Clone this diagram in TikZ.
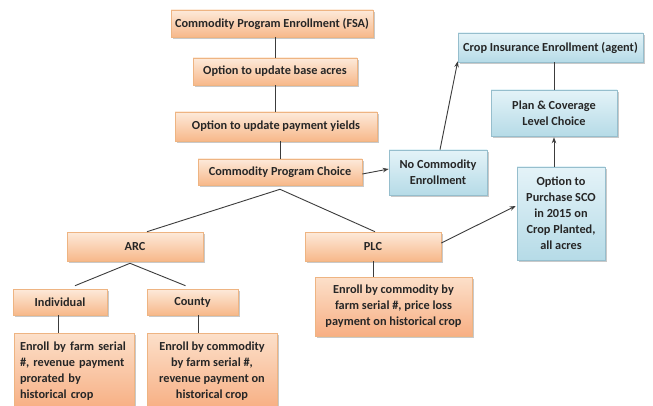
\documentclass[tikz,border=0pt]{standalone}
\usepackage{fontspec}
\setmainfont{Carlito}
\usetikzlibrary{shadows,arrows.meta,calc}
\definecolor{orTop}{RGB}{253,234,218}
\definecolor{orBot}{RGB}{247,184,138}
\definecolor{orLine}{RGB}{238,180,130}
\definecolor{blTop}{RGB}{228,243,248}
\definecolor{blBot}{RGB}{182,219,231}
\definecolor{blLine}{RGB}{150,190,205}
\definecolor{conn}{RGB}{60,60,60}
\tikzset{
  box/.style={draw, line width=0.6pt, inner sep=2pt, align=center,
    font=\fontsize{12.3}{16}\selectfont\bfseries, text=black!85,
    drop shadow={shadow xshift=1.6pt, shadow yshift=-1.6pt, opacity=0.35, fill=black!60}},
  orbox/.style={box, draw=orLine, top color=orTop, bottom color=orBot},
  ordet/.style={box, draw=orLine, top color=orTop!80!orBot, bottom color=orBot!95!red},
  blbox/.style={box, draw=blLine, top color=blTop, bottom color=blBot},
  link/.style={draw=conn, line width=0.9pt},
  arr/.style={link, -{Stealth[length=6pt,width=4.5pt]}},
}
\begin{document}
\begin{tikzpicture}[x=1pt,y=-1pt]
\clip (0,0) rectangle (653,406);
\useasboundingbox (0,0) rectangle (653,406);
\fill[white] (0,0) rectangle (653,406);

\node[orbox, minimum width=202pt, minimum height=27pt] (enroll) at (272,23.5) {Commodity Program Enrollment (FSA)};
\node[orbox, minimum width=164pt, minimum height=27pt] (base) at (275,71.5) {Option to update base acres};
\node[orbox, minimum width=202pt, minimum height=29pt] (yields) at (276,126.5) {Option to update payment yields};
\node[orbox, minimum width=164pt, minimum height=26pt] (choice) at (280,172) {Commodity Program Choice};
\node[blbox, minimum width=98pt, minimum height=45pt] (nocom) at (438,172.5) {No Commodity\\Enrollment};
\node[blbox, minimum width=185pt, minimum height=29pt] (cropins) at (550.5,47.5) {Crop Insurance Enrollment (agent)};
\node[blbox, minimum width=126pt, minimum height=46pt] (plan) at (554,113) {Plan \& Coverage\\Level Choice};
\node[blbox, minimum width=88pt, minimum height=93pt] (sco) at (561,213.5) {Option to\\Purchase SCO\\in 2015 on\\Crop Planted,\\all acres};
\node[orbox, minimum width=136pt, minimum height=29pt] (arc) at (135,246.5) {ARC};
\node[orbox, minimum width=136pt, minimum height=29pt] (plc) at (373,246.5) {PLC};
\node[ordet, minimum width=157pt, minimum height=59pt] (plcd) at (393.5,306.5) {Enroll by commodity by\\farm serial \#, price loss\\payment on historical crop};
\node[orbox, minimum width=94pt, minimum height=26pt] (indiv) at (60,302) {Individual};
\node[orbox, minimum width=91pt, minimum height=26pt] (county) at (192.5,302) {County};
\node[ordet, minimum width=120pt, minimum height=76pt, text width=108pt, align=left] (indivd) at (74,371) {Enroll by farm serial\\\#, revenue payment\\prorated by\\historical crop};
\node[ordet, minimum width=130pt, minimum height=76pt] (countyd) at (212,371) {Enroll by commodity\\by farm serial \#,\\revenue payment on\\historical crop};

% connectors
\draw[link] (base.north) -- (base.north |- enroll.south);
\draw[link] (base.south) -- (base.south |- yields.north);
\draw[link] (choice.north) -- (choice.north |- yields.south);
\draw[arr] ([yshift=-2pt]choice.east) -- ([yshift=3.5pt]nocom.west);
\draw[arr] ([xshift=2pt]nocom.north) -- ([yshift=1pt]cropins.south west);
\draw[link] (plan.north) -- (plan.north |- cropins.south);
\draw[arr] (plan.south |- sco.north) -- ([yshift=-1pt]plan.south);
\draw[arr] ([yshift=3.5pt]plc.east) -- ([yshift=7.5pt,xshift=-1pt]sco.west);
\draw[link] ([yshift=-4pt]choice.south) -- ([xshift=12pt]arc.north);
\draw[link] ([yshift=-4pt]choice.south) -- ([xshift=2pt]plc.north);
\draw[link] ([xshift=-5pt,yshift=-2pt]arc.south) -- ([xshift=15pt,yshift=3pt]indiv.north);
\draw[link] ([xshift=-5pt,yshift=-2pt]arc.south) -- ([xshift=-7pt,yshift=3pt]county.north);
\draw[link] ([xshift=-2pt]indiv.south) -- ([xshift=-2pt]indiv.south |- indivd.north);
\draw[link] ([xshift=6pt]county.south) -- ([xshift=6pt]county.south |- countyd.north);
\draw[link] (plc.south) -- (plc.south |- plcd.north);
\end{tikzpicture}
\end{document}
